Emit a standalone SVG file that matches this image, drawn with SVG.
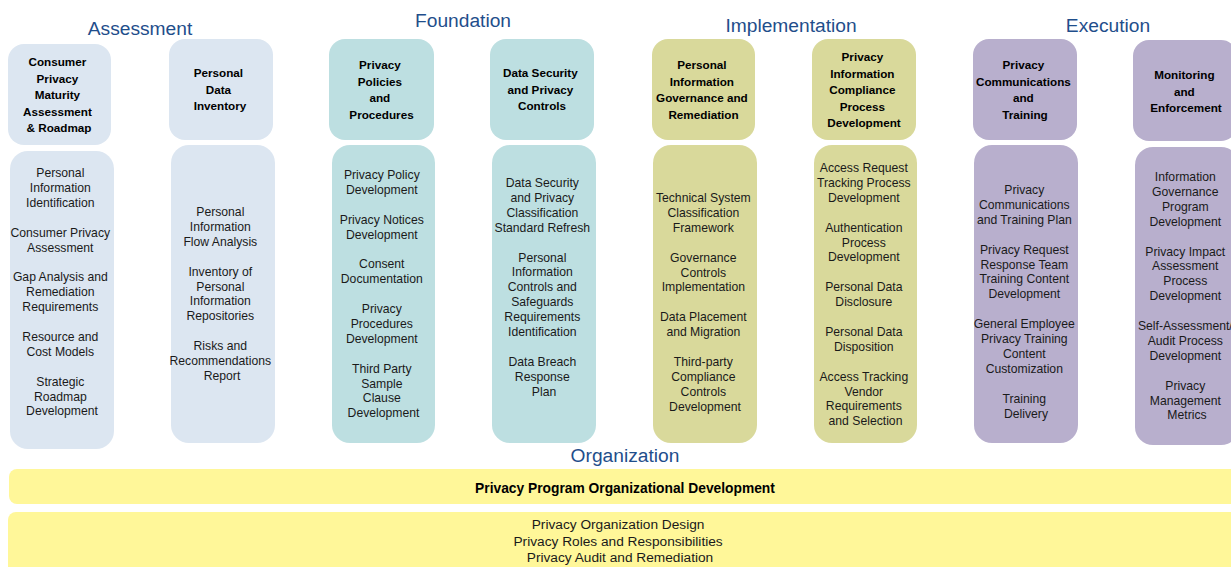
<svg xmlns="http://www.w3.org/2000/svg" width="1231" height="567" viewBox="0 0 1231 567">
  <style>
    .phase { font-family: "Liberation Sans", Arial, sans-serif; font-size: 19.2px; fill: #1f4e8b; text-anchor: middle; }
    .hd { font-family: "Liberation Sans", Arial, sans-serif; font-size: 11.7px; font-weight: bold; fill: #000; text-anchor: middle; }
    .bd { font-family: "Liberation Sans", Arial, sans-serif; font-size: 12.2px; fill: #1a1a1a; text-anchor: middle; }
    .bar-hd { font-family: "Liberation Sans", Arial, sans-serif; font-size: 13.8px; font-weight: bold; fill: #000; text-anchor: middle; }
    .bar-bd { font-family: "Liberation Sans", Arial, sans-serif; font-size: 13.7px; fill: #1a1a1a; text-anchor: middle; }
    .blue { fill: #dce6f1; }
    .teal { fill: #bddfe1; }
    .olive { fill: #d9d99b; }
    .lilac { fill: #b8afcd; }
    .yellow { fill: #fff799; }
  </style>

  <rect width="1231" height="567" fill="#ffffff"/>

  <!-- phase titles -->
  <g id="titles">
    <text class="phase" x="140" y="35">Assessment</text>
    <text class="phase" x="463" y="27">Foundation</text>
    <text class="phase" x="791" y="32">Implementation</text>
    <text class="phase" x="1108" y="32">Execution</text>
    <text class="phase" x="625" y="462">Organization</text>
  </g>

  <!-- Assessment -->
  <g id="consumer-privacy-maturity">
    <rect class="blue" x="8" y="44" width="103" height="101" rx="16"/>
    <text class="hd" y="66">
      <tspan x="59" dy="0">Consumer</tspan>
      <tspan x="59" dy="16.6">Privacy</tspan>
      <tspan x="59" dy="16.6">Maturity</tspan>
      <tspan x="59" dy="16.6">Assessment</tspan>
      <tspan x="59" dy="16.6">&amp; Roadmap</tspan>
    </text>
    <rect class="blue" x="10" y="151" width="104" height="298" rx="18"/>
    <text class="bd" y="177">
      <tspan x="62" dy="0">Personal</tspan>
      <tspan x="62" dy="14.9">Information</tspan>
      <tspan x="62" dy="14.9">Identification</tspan>
      <tspan x="62" dy="29.8">Consumer Privacy</tspan>
      <tspan x="62" dy="14.9">Assessment</tspan>
      <tspan x="62" dy="29.8">Gap Analysis and</tspan>
      <tspan x="62" dy="14.9">Remediation</tspan>
      <tspan x="62" dy="14.9">Requirements</tspan>
      <tspan x="62" dy="29.8">Resource and</tspan>
      <tspan x="62" dy="14.9">Cost Models</tspan>
      <tspan x="62" dy="29.8">Strategic</tspan>
      <tspan x="62" dy="14.9">Roadmap</tspan>
      <tspan x="62" dy="14.9">Development</tspan>
    </text>
  </g>

  <g id="personal-data-inventory">
    <rect class="blue" x="169" y="39" width="104" height="101" rx="16"/>
    <text class="hd" y="77">
      <tspan x="220" dy="0">Personal</tspan>
      <tspan x="220" dy="16.6">Data</tspan>
      <tspan x="220" dy="16.6">Inventory</tspan>
    </text>
    <rect class="blue" x="171" y="145" width="104" height="298" rx="18"/>
    <text class="bd" y="216">
      <tspan x="222" dy="0">Personal</tspan>
      <tspan x="222" dy="14.9">Information</tspan>
      <tspan x="222" dy="14.9">Flow Analysis</tspan>
      <tspan x="222" dy="29.8">Inventory of</tspan>
      <tspan x="222" dy="14.9">Personal</tspan>
      <tspan x="222" dy="14.9">Information</tspan>
      <tspan x="222" dy="14.9">Repositories</tspan>
      <tspan x="222" dy="29.8">Risks and</tspan>
      <tspan x="222" dy="14.9">Recommendations</tspan>
      <tspan x="222" dy="14.9">Report</tspan>
    </text>
  </g>

  <!-- Foundation -->
  <g id="privacy-policies">
    <rect class="teal" x="329" y="39" width="105" height="101" rx="16"/>
    <text class="hd" y="69">
      <tspan x="381.5" dy="0">Privacy</tspan>
      <tspan x="381.5" dy="16.6">Policies</tspan>
      <tspan x="381.5" dy="16.6">and</tspan>
      <tspan x="381.5" dy="16.6">Procedures</tspan>
    </text>
    <rect class="teal" x="332" y="145" width="103" height="298" rx="18"/>
    <text class="bd" y="179">
      <tspan x="383.5" dy="0">Privacy Policy</tspan>
      <tspan x="383.5" dy="14.9">Development</tspan>
      <tspan x="383.5" dy="29.8">Privacy Notices</tspan>
      <tspan x="383.5" dy="14.9">Development</tspan>
      <tspan x="383.5" dy="29.8">Consent</tspan>
      <tspan x="383.5" dy="14.9">Documentation</tspan>
      <tspan x="383.5" dy="29.8">Privacy</tspan>
      <tspan x="383.5" dy="14.9">Procedures</tspan>
      <tspan x="383.5" dy="14.9">Development</tspan>
      <tspan x="383.5" dy="29.8">Third Party</tspan>
      <tspan x="383.5" dy="14.9">Sample</tspan>
      <tspan x="383.5" dy="14.9">Clause</tspan>
      <tspan x="383.5" dy="14.9">Development</tspan>
    </text>
  </g>

  <g id="data-security-controls">
    <rect class="teal" x="490" y="39" width="104" height="101" rx="16"/>
    <text class="hd" y="77">
      <tspan x="542" dy="0">Data Security</tspan>
      <tspan x="542" dy="16.6">and Privacy</tspan>
      <tspan x="542" dy="16.6">Controls</tspan>
    </text>
    <rect class="teal" x="492" y="145" width="104" height="298" rx="18"/>
    <text class="bd" y="187">
      <tspan x="544" dy="0">Data Security</tspan>
      <tspan x="544" dy="14.9">and Privacy</tspan>
      <tspan x="544" dy="14.9">Classification</tspan>
      <tspan x="544" dy="14.9">Standard Refresh</tspan>
      <tspan x="544" dy="29.8">Personal</tspan>
      <tspan x="544" dy="14.9">Information</tspan>
      <tspan x="544" dy="14.9">Controls and</tspan>
      <tspan x="544" dy="14.9">Safeguards</tspan>
      <tspan x="544" dy="14.9">Requirements</tspan>
      <tspan x="544" dy="14.9">Identification</tspan>
      <tspan x="544" dy="29.8">Data Breach</tspan>
      <tspan x="544" dy="14.9">Response</tspan>
      <tspan x="544" dy="14.9">Plan</tspan>
    </text>
  </g>

  <!-- Implementation -->
  <g id="pi-governance">
    <rect class="olive" x="652" y="39" width="103" height="101" rx="16"/>
    <text class="hd" y="69">
      <tspan x="703.5" dy="0">Personal</tspan>
      <tspan x="703.5" dy="16.6">Information</tspan>
      <tspan x="703.5" dy="16.6">Governance and</tspan>
      <tspan x="703.5" dy="16.6">Remediation</tspan>
    </text>
    <rect class="olive" x="653" y="145" width="104" height="298" rx="18"/>
    <text class="bd" y="202">
      <tspan x="705" dy="0">Technical System</tspan>
      <tspan x="705" dy="14.9">Classification</tspan>
      <tspan x="705" dy="14.9">Framework</tspan>
      <tspan x="705" dy="29.8">Governance</tspan>
      <tspan x="705" dy="14.9">Controls</tspan>
      <tspan x="705" dy="14.9">Implementation</tspan>
      <tspan x="705" dy="29.8">Data Placement</tspan>
      <tspan x="705" dy="14.9">and Migration</tspan>
      <tspan x="705" dy="29.8">Third-party</tspan>
      <tspan x="705" dy="14.9">Compliance</tspan>
      <tspan x="705" dy="14.9">Controls</tspan>
      <tspan x="705" dy="14.9">Development</tspan>
    </text>
  </g>

  <g id="compliance-process">
    <rect class="olive" x="812" y="39" width="104" height="101" rx="16"/>
    <text class="hd" y="61">
      <tspan x="864" dy="0">Privacy</tspan>
      <tspan x="864" dy="16.6">Information</tspan>
      <tspan x="864" dy="16.6">Compliance</tspan>
      <tspan x="864" dy="16.6">Process</tspan>
      <tspan x="864" dy="16.6">Development</tspan>
    </text>
    <rect class="olive" x="814" y="145" width="103" height="298" rx="18"/>
    <text class="bd" y="172">
      <tspan x="865.5" dy="0">Access Request</tspan>
      <tspan x="865.5" dy="14.9">Tracking Process</tspan>
      <tspan x="865.5" dy="14.9">Development</tspan>
      <tspan x="865.5" dy="29.8">Authentication</tspan>
      <tspan x="865.5" dy="14.9">Process</tspan>
      <tspan x="865.5" dy="14.9">Development</tspan>
      <tspan x="865.5" dy="29.8">Personal Data</tspan>
      <tspan x="865.5" dy="14.9">Disclosure</tspan>
      <tspan x="865.5" dy="29.8">Personal Data</tspan>
      <tspan x="865.5" dy="14.9">Disposition</tspan>
      <tspan x="865.5" dy="29.8">Access Tracking</tspan>
      <tspan x="865.5" dy="14.9">Vendor</tspan>
      <tspan x="865.5" dy="14.9">Requirements</tspan>
      <tspan x="865.5" dy="14.9">and Selection</tspan>
    </text>
  </g>

  <!-- Execution -->
  <g id="communications-training">
    <rect class="lilac" x="973" y="39" width="104" height="101" rx="16"/>
    <text class="hd" y="69">
      <tspan x="1025" dy="0">Privacy</tspan>
      <tspan x="1025" dy="16.6">Communications</tspan>
      <tspan x="1025" dy="16.6">and</tspan>
      <tspan x="1025" dy="16.6">Training</tspan>
    </text>
    <rect class="lilac" x="974" y="145" width="104" height="298" rx="18"/>
    <text class="bd" y="194">
      <tspan x="1026" dy="0">Privacy</tspan>
      <tspan x="1026" dy="14.9">Communications</tspan>
      <tspan x="1026" dy="14.9">and Training Plan</tspan>
      <tspan x="1026" dy="29.8">Privacy Request</tspan>
      <tspan x="1026" dy="14.9">Response Team</tspan>
      <tspan x="1026" dy="14.9">Training Content</tspan>
      <tspan x="1026" dy="14.9">Development</tspan>
      <tspan x="1026" dy="29.8">General Employee</tspan>
      <tspan x="1026" dy="14.9">Privacy Training</tspan>
      <tspan x="1026" dy="14.9">Content</tspan>
      <tspan x="1026" dy="14.9">Customization</tspan>
      <tspan x="1026" dy="29.8">Training</tspan>
      <tspan x="1026" dy="14.9">Delivery</tspan>
    </text>
  </g>

  <g id="monitoring-enforcement">
    <rect class="lilac" x="1133" y="40" width="104" height="101" rx="16"/>
    <text class="hd" y="79">
      <tspan x="1186" dy="0">Monitoring</tspan>
      <tspan x="1186" dy="16.6">and</tspan>
      <tspan x="1186" dy="16.6">Enforcement</tspan>
    </text>
    <rect class="lilac" x="1135" y="147" width="104" height="298" rx="18"/>
    <text class="bd" y="181">
      <tspan x="1187" dy="0">Information</tspan>
      <tspan x="1187" dy="14.9">Governance</tspan>
      <tspan x="1187" dy="14.9">Program</tspan>
      <tspan x="1187" dy="14.9">Development</tspan>
      <tspan x="1187" dy="29.8">Privacy Impact</tspan>
      <tspan x="1187" dy="14.9">Assessment</tspan>
      <tspan x="1187" dy="14.9">Process</tspan>
      <tspan x="1187" dy="14.9">Development</tspan>
      <tspan x="1187" dy="29.8">Self-Assessment/</tspan>
      <tspan x="1187" dy="14.9">Audit Process</tspan>
      <tspan x="1187" dy="14.9">Development</tspan>
      <tspan x="1187" dy="29.8">Privacy</tspan>
      <tspan x="1187" dy="14.9">Management</tspan>
      <tspan x="1187" dy="14.9">Metrics</tspan>
    </text>
  </g>

  <!-- Organization -->
  <g id="org-development">
    <rect class="yellow" x="9" y="469" width="1240" height="35" rx="8"/>
    <text class="bar-hd" x="625" y="493">Privacy Program Organizational Development</text>
  </g>

  <g id="org-activities">
    <rect class="yellow" x="8" y="512" width="1240" height="75" rx="8"/>
    <text class="bar-bd" y="529">
      <tspan x="620" dy="0">Privacy Organization Design</tspan>
      <tspan x="620" dy="16.5">Privacy Roles and Responsibilities</tspan>
      <tspan x="620" dy="16.5">Privacy Audit and Remediation</tspan>
    </text>
  </g>
</svg>
